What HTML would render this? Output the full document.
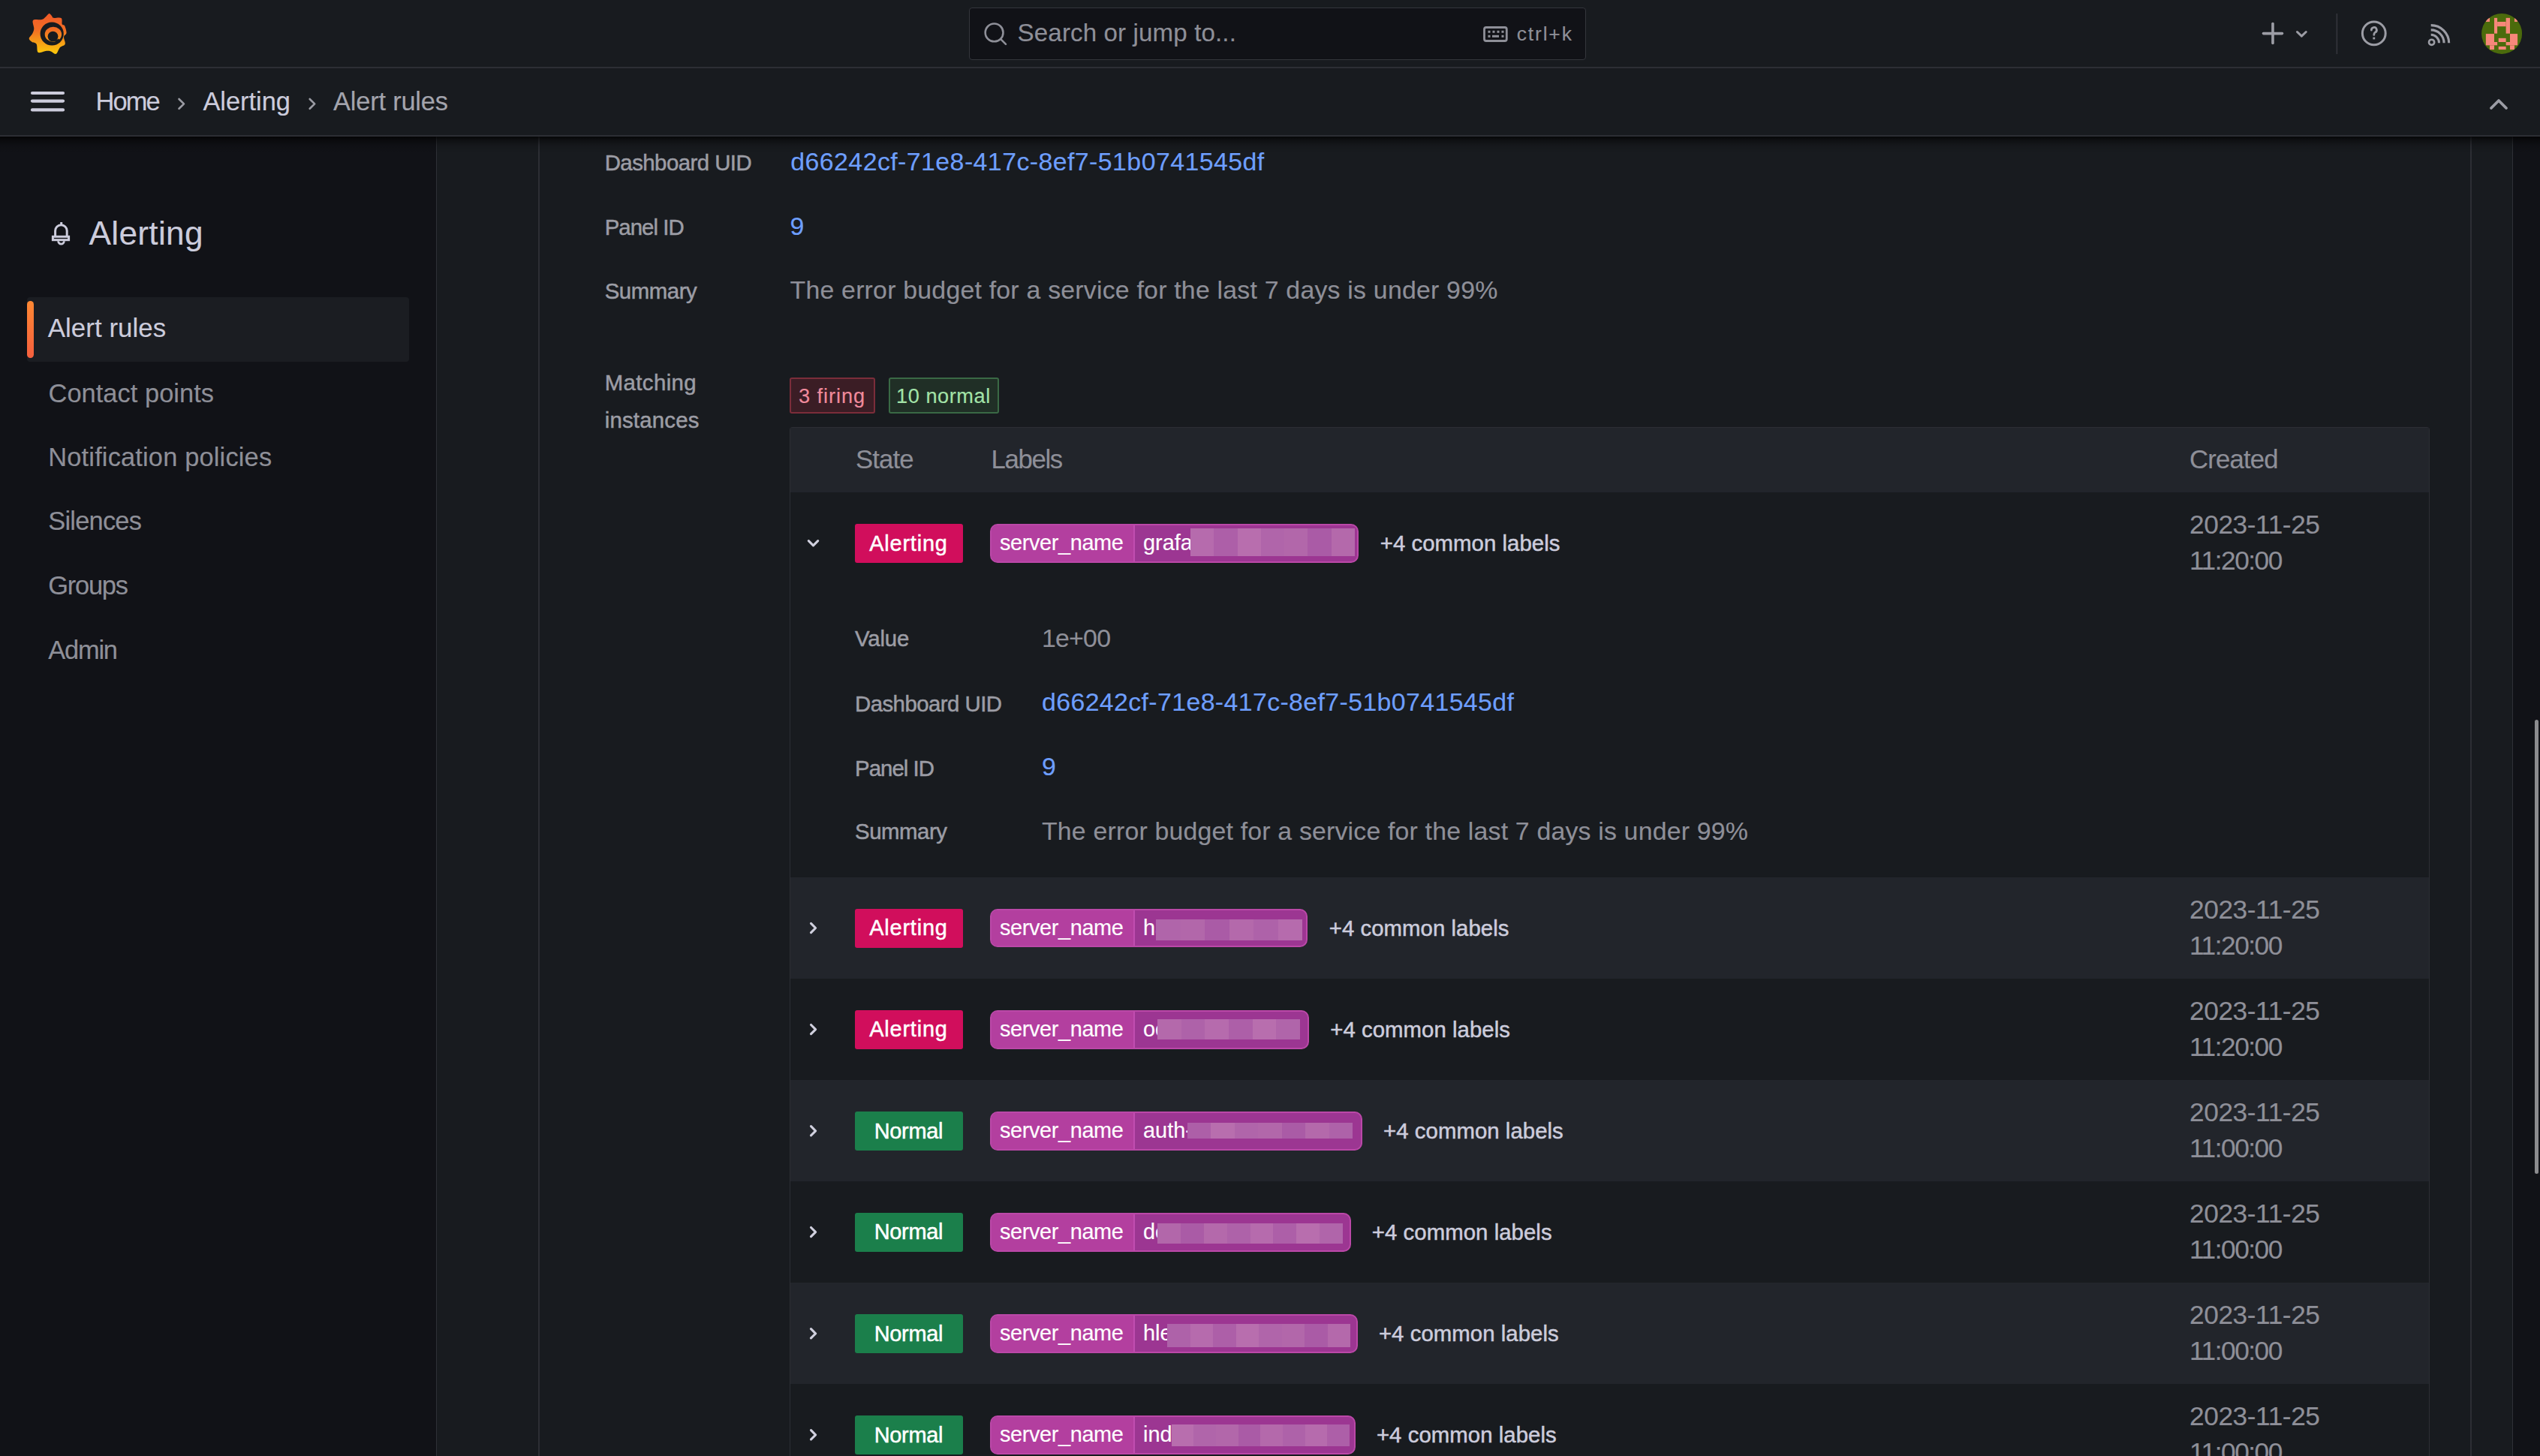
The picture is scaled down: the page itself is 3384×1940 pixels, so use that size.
<!DOCTYPE html>
<html><head><meta charset="utf-8"><style>
html,body{margin:0;padding:0;width:3384px;height:1940px;overflow:hidden;background:#181b1f}
body{position:relative;font-family:"Liberation Sans",sans-serif}
.t{position:absolute;white-space:nowrap;line-height:1}
.b{position:absolute}
</style></head><body><div id="root" style="position:relative;width:3384px;height:1940px;overflow:hidden">
<div class="b" style="left:0.00px;top:0.00px;width:3384.00px;height:1940.00px;background:#181b1f"></div>
<div class="b" style="left:0.00px;top:182.00px;width:581.00px;height:1758.00px;background:#111217"></div>
<div class="b" style="left:580.50px;top:182.00px;width:1.50px;height:1758.00px;background:#2e3036"></div>
<div class="b" style="left:3348.00px;top:182.00px;width:36.00px;height:1758.00px;background:#111217"></div>
<div class="b" style="left:717.00px;top:182.00px;width:2.00px;height:1758.00px;background:#2c2e34"></div>
<div class="b" style="left:3291.00px;top:182.00px;width:2.00px;height:1758.00px;background:#2c2e34"></div>
<div class="b" style="left:3347.00px;top:182.00px;width:1.30px;height:1758.00px;background:#2e3036"></div>
<div class="b" style="left:3377.00px;top:959.00px;width:5.00px;height:605.00px;background:#8c8c8f;border-radius:3px"></div>
<div class="b" style="left:0.00px;top:89.00px;width:3384.00px;height:2.00px;background:#2c2e34"></div>
<div class="b" style="left:0.00px;top:180.00px;width:3384.00px;height:2.00px;background:#2c2e34"></div>
<div class="b" style="left:0.00px;top:182.00px;width:3384.00px;height:22.00px;background:linear-gradient(rgba(0,0,0,0.75) 0px,rgba(0,0,0,0.4) 5px,rgba(0,0,0,0.12) 12px,rgba(0,0,0,0) 22px)"></div>
<div class="b" style="left:1290.50px;top:9.80px;width:822.00px;height:70.70px;background:#111217;border:1.5px solid #34363c;border-radius:4px;box-sizing:border-box"></div>
<div class="t" style="left:1355.60px;top:27.35px;font-size:33.14px;letter-spacing:0.117px;color:#8e8f98;-webkit-text-stroke:0.15px #8e8f98;">Search or jump to...</div>
<div class="t" style="left:2020.80px;top:31.66px;font-size:26.45px;letter-spacing:1.832px;color:#8e8f98;-webkit-text-stroke:0.15px #8e8f98;">ctrl+k</div>
<div class="t" style="left:127.50px;top:117.54px;font-size:34.45px;letter-spacing:-1.896px;color:#ccccdc;-webkit-text-stroke:0.15px #ccccdc;">Home</div>
<div class="t" style="left:270.40px;top:117.54px;font-size:34.45px;letter-spacing:-0.029px;color:#ccccdc;-webkit-text-stroke:0.15px #ccccdc;">Alerting</div>
<div class="t" style="left:444.00px;top:117.54px;font-size:34.45px;letter-spacing:-0.207px;color:#a3a4ad;-webkit-text-stroke:0.15px #a3a4ad;">Alert rules</div>
<div class="b" style="left:36.00px;top:396.00px;width:508.60px;height:86.00px;background:#1b1d22;border-radius:4px"></div>
<div class="b" style="left:35.90px;top:400.90px;width:9.20px;height:76.10px;background:linear-gradient(#ff8833,#f55f3e);border-radius:5px"></div>
<div class="t" style="left:118.50px;top:288.70px;font-size:44.19px;letter-spacing:0.311px;color:#ccccdc;-webkit-text-stroke:0.15px #ccccdc;">Alerting</div>
<div class="t" style="left:63.70px;top:420.47px;font-size:34.88px;letter-spacing:0.057px;color:#ccccdc;-webkit-text-stroke:0.15px #ccccdc;">Alert rules</div>
<div class="t" style="left:64.50px;top:506.74px;font-size:34.45px;letter-spacing:0.030px;color:#8e8f98;-webkit-text-stroke:0.15px #8e8f98;">Contact points</div>
<div class="t" style="left:64.30px;top:591.54px;font-size:34.45px;letter-spacing:0.152px;color:#8e8f98;-webkit-text-stroke:0.15px #8e8f98;">Notification policies</div>
<div class="t" style="left:64.30px;top:677.24px;font-size:34.45px;letter-spacing:-0.787px;color:#8e8f98;-webkit-text-stroke:0.15px #8e8f98;">Silences</div>
<div class="t" style="left:64.30px;top:762.54px;font-size:34.45px;letter-spacing:-1.273px;color:#8e8f98;-webkit-text-stroke:0.15px #8e8f98;">Groups</div>
<div class="t" style="left:64.30px;top:848.74px;font-size:34.45px;letter-spacing:-1.235px;color:#8e8f98;-webkit-text-stroke:0.15px #8e8f98;">Admin</div>
<div class="t" style="left:805.70px;top:202.35px;font-size:29.36px;letter-spacing:-0.530px;color:#9c9da5;-webkit-text-stroke:0.5px #9c9da5;">Dashboard UID</div>
<div class="t" style="left:1053.30px;top:199.13px;font-size:33.87px;letter-spacing:0.436px;color:#6e9fff;-webkit-text-stroke:0.15px #6e9fff;">d66242cf-71e8-417c-8ef7-51b0741545df</div>
<div class="t" style="left:805.70px;top:287.55px;font-size:29.36px;letter-spacing:-0.944px;color:#9c9da5;-webkit-text-stroke:0.5px #9c9da5;">Panel ID</div>
<div class="t" style="left:1052.50px;top:284.83px;font-size:33.87px;letter-spacing:0.000px;color:#6e9fff;-webkit-text-stroke:0.15px #6e9fff;">9</div>
<div class="t" style="left:805.70px;top:372.55px;font-size:29.36px;letter-spacing:-0.436px;color:#9c9da5;-webkit-text-stroke:0.5px #9c9da5;">Summary</div>
<div class="t" style="left:1052.50px;top:370.33px;font-size:33.87px;letter-spacing:0.211px;color:#8e8f98;-webkit-text-stroke:0.15px #8e8f98;">The error budget for a service for the last 7 days is under 99%</div>
<div class="t" style="left:805.70px;top:495.15px;font-size:29.36px;letter-spacing:0.409px;color:#9c9da5;-webkit-text-stroke:0.5px #9c9da5;">Matching</div>
<div class="t" style="left:805.70px;top:545.15px;font-size:29.36px;letter-spacing:0.208px;color:#9c9da5;-webkit-text-stroke:0.5px #9c9da5;">instances</div>
<div class="b" style="left:1052.20px;top:503.20px;width:113.60px;height:47.60px;background:#3b1d25;border:2px solid #7b2d3a;border-radius:3px;box-sizing:border-box"></div>
<div class="t" style="left:1064.00px;top:513.99px;font-size:27.18px;letter-spacing:0.946px;color:#f08a9c;-webkit-text-stroke:0.15px #f08a9c;">3 firing</div>
<div class="b" style="left:1184.00px;top:503.20px;width:146.80px;height:47.60px;background:#202f26;border:2px solid #3a6945;border-radius:3px;box-sizing:border-box"></div>
<div class="t" style="left:1194.00px;top:513.99px;font-size:27.18px;letter-spacing:0.554px;color:#a3e3a8;-webkit-text-stroke:0.15px #a3e3a8;">10 normal</div>
<div class="b" style="left:1052.00px;top:569.00px;width:2185.20px;height:1371.00px;border:1.4px solid #2c2e34;border-bottom:none;border-radius:4px 4px 0 0;box-sizing:border-box"></div>
<div class="b" style="left:1053.40px;top:570.40px;width:2182.40px;height:85.60px;background:#22252b"></div>
<div class="t" style="left:1140.00px;top:594.69px;font-size:34.74px;letter-spacing:-0.903px;color:#8e8f98;-webkit-text-stroke:0.15px #8e8f98;">State</div>
<div class="t" style="left:1320.60px;top:594.69px;font-size:34.74px;letter-spacing:-1.353px;color:#8e8f98;-webkit-text-stroke:0.15px #8e8f98;">Labels</div>
<div class="t" style="left:2917.00px;top:594.99px;font-size:34.74px;letter-spacing:-0.814px;color:#8e8f98;-webkit-text-stroke:0.15px #8e8f98;">Created</div>
<div class="b" style="left:1053.40px;top:656.00px;width:2182.40px;height:512.70px;background:#181b1f"></div>
<svg class="b" style="left:0;top:0;overflow:visible" width="1" height="1"><path d="M1077.3 720.60 L1083.5 726.80 L1089.7 720.60" fill="none" stroke="#d0d0de" stroke-width="3.1" stroke-linecap="round" stroke-linejoin="round"/></svg>
<div class="b" style="left:1139.00px;top:698.10px;width:144.00px;height:51.80px;background:#d10e5c;border-radius:3px"></div>
<div class="t" style="left:1158.30px;top:709.52px;font-size:28.92px;letter-spacing:0.790px;color:#ffffff;-webkit-text-stroke:0.5px #ffffff;">Alerting</div>
<div class="b" style="left:1319.20px;top:698.20px;width:491.30px;height:51.60px;background:#9c3692;border:2px solid #bb48a8;border-radius:10px;box-sizing:border-box;overflow:hidden"></div>
<div class="b" style="left:1321.00px;top:700.20px;width:189.00px;height:47.60px;background:#b33f9f;border-radius:8px 0 0 8px"></div>
<div class="b" style="left:1509.50px;top:700.20px;width:2.00px;height:47.60px;background:#c04db0"></div>
<div class="t" style="left:1332.00px;top:709.02px;font-size:28.92px;letter-spacing:-0.380px;color:#ffffff;-webkit-text-stroke:0.15px #ffffff;">server_name</div>
<div class="t" style="left:1523.00px;top:709.02px;font-size:28.92px;letter-spacing:0.000px;color:#ffffff;-webkit-text-stroke:0.15px #ffffff;">grafa</div>
<div class="b" style="left:1586.00px;top:704.10px;width:31.59px;height:37.00px;background:#b66bad"></div>
<div class="b" style="left:1617.29px;top:704.10px;width:31.59px;height:37.00px;background:#ad5fa8"></div>
<div class="b" style="left:1648.57px;top:704.10px;width:31.59px;height:37.00px;background:#b86eae"></div>
<div class="b" style="left:1679.86px;top:704.10px;width:31.59px;height:37.00px;background:#b065aa"></div>
<div class="b" style="left:1711.14px;top:704.10px;width:31.59px;height:37.00px;background:#b267aa"></div>
<div class="b" style="left:1742.43px;top:704.10px;width:31.59px;height:37.00px;background:#aa5ba6"></div>
<div class="b" style="left:1773.71px;top:704.10px;width:31.59px;height:37.00px;background:#b469ab"></div>
<div class="t" style="left:1838.70px;top:709.25px;font-size:29.36px;letter-spacing:0.048px;color:#ccccdc;-webkit-text-stroke:0.5px #ccccdc;">+4 common labels</div>
<div class="t" style="left:2917.00px;top:680.80px;font-size:35.32px;letter-spacing:-0.450px;color:#8e8f98;-webkit-text-stroke:0.15px #8e8f98;">2023-11-25</div>
<div class="t" style="left:2917.00px;top:729.20px;font-size:35.32px;letter-spacing:-1.495px;color:#8e8f98;-webkit-text-stroke:0.15px #8e8f98;">11:20:00</div>
<div class="t" style="left:1139.00px;top:836.15px;font-size:29.36px;letter-spacing:-0.154px;color:#9c9da5;-webkit-text-stroke:0.5px #9c9da5;">Value</div>
<div class="t" style="left:1388.00px;top:834.33px;font-size:33.87px;letter-spacing:-0.779px;color:#8e8f98;-webkit-text-stroke:0.15px #8e8f98;">1e+00</div>
<div class="t" style="left:1139.00px;top:923.15px;font-size:29.36px;letter-spacing:-0.530px;color:#9c9da5;-webkit-text-stroke:0.5px #9c9da5;">Dashboard UID</div>
<div class="t" style="left:1388.00px;top:919.33px;font-size:33.87px;letter-spacing:0.379px;color:#6e9fff;-webkit-text-stroke:0.15px #6e9fff;">d66242cf-71e8-417c-8ef7-51b0741545df</div>
<div class="t" style="left:1139.00px;top:1008.65px;font-size:29.36px;letter-spacing:-0.944px;color:#9c9da5;-webkit-text-stroke:0.5px #9c9da5;">Panel ID</div>
<div class="t" style="left:1388.00px;top:1004.83px;font-size:33.87px;letter-spacing:0.000px;color:#6e9fff;-webkit-text-stroke:0.15px #6e9fff;">9</div>
<div class="t" style="left:1139.00px;top:1093.15px;font-size:29.36px;letter-spacing:-0.436px;color:#9c9da5;-webkit-text-stroke:0.5px #9c9da5;">Summary</div>
<div class="t" style="left:1388.00px;top:1090.83px;font-size:33.87px;letter-spacing:0.179px;color:#8e8f98;-webkit-text-stroke:0.15px #8e8f98;">The error budget for a service for the last 7 days is under 99%</div>
<div class="b" style="left:1053.40px;top:1168.70px;width:2182.40px;height:135.10px;background:#22252b"></div>
<svg class="b" style="left:0;top:0;overflow:visible" width="1" height="1"><path d="M1080.5 1230.40 L1086.6 1236.50 L1080.5 1242.60" fill="none" stroke="#d0d0de" stroke-width="3.1" stroke-linecap="round" stroke-linejoin="round"/></svg>
<div class="b" style="left:1139.00px;top:1210.80px;width:144.00px;height:51.80px;background:#d10e5c;border-radius:3px"></div>
<div class="t" style="left:1158.30px;top:1222.22px;font-size:28.92px;letter-spacing:0.790px;color:#ffffff;-webkit-text-stroke:0.5px #ffffff;">Alerting</div>
<div class="b" style="left:1319.20px;top:1210.90px;width:423.30px;height:51.60px;background:#9c3692;border:2px solid #bb48a8;border-radius:10px;box-sizing:border-box;overflow:hidden"></div>
<div class="b" style="left:1321.00px;top:1212.90px;width:189.00px;height:47.60px;background:#b33f9f;border-radius:8px 0 0 8px"></div>
<div class="b" style="left:1509.50px;top:1212.90px;width:2.00px;height:47.60px;background:#c04db0"></div>
<div class="t" style="left:1332.00px;top:1221.72px;font-size:28.92px;letter-spacing:-0.380px;color:#ffffff;-webkit-text-stroke:0.15px #ffffff;">server_name</div>
<div class="t" style="left:1523.00px;top:1221.72px;font-size:28.92px;letter-spacing:0.000px;color:#ffffff;-webkit-text-stroke:0.15px #ffffff;">ha</div>
<div class="b" style="left:1540.00px;top:1224.90px;width:32.80px;height:27.70px;background:#b065aa"></div>
<div class="b" style="left:1572.50px;top:1224.90px;width:32.80px;height:27.70px;background:#b267aa"></div>
<div class="b" style="left:1605.00px;top:1224.90px;width:32.80px;height:27.70px;background:#aa5ba6"></div>
<div class="b" style="left:1637.50px;top:1224.90px;width:32.80px;height:27.70px;background:#b469ab"></div>
<div class="b" style="left:1670.00px;top:1224.90px;width:32.80px;height:27.70px;background:#ae62a9"></div>
<div class="b" style="left:1702.50px;top:1224.90px;width:32.80px;height:27.70px;background:#b66bad"></div>
<div class="t" style="left:1770.70px;top:1221.95px;font-size:29.36px;letter-spacing:0.048px;color:#ccccdc;-webkit-text-stroke:0.5px #ccccdc;">+4 common labels</div>
<div class="t" style="left:2917.00px;top:1193.50px;font-size:35.32px;letter-spacing:-0.450px;color:#8e8f98;-webkit-text-stroke:0.15px #8e8f98;">2023-11-25</div>
<div class="t" style="left:2917.00px;top:1241.90px;font-size:35.32px;letter-spacing:-1.495px;color:#8e8f98;-webkit-text-stroke:0.15px #8e8f98;">11:20:00</div>
<div class="b" style="left:1053.40px;top:1303.80px;width:2182.40px;height:135.20px;background:#181b1f"></div>
<svg class="b" style="left:0;top:0;overflow:visible" width="1" height="1"><path d="M1080.5 1365.50 L1086.6 1371.60 L1080.5 1377.70" fill="none" stroke="#d0d0de" stroke-width="3.1" stroke-linecap="round" stroke-linejoin="round"/></svg>
<div class="b" style="left:1139.00px;top:1345.90px;width:144.00px;height:51.80px;background:#d10e5c;border-radius:3px"></div>
<div class="t" style="left:1158.30px;top:1357.32px;font-size:28.92px;letter-spacing:0.790px;color:#ffffff;-webkit-text-stroke:0.5px #ffffff;">Alerting</div>
<div class="b" style="left:1319.20px;top:1346.00px;width:424.80px;height:51.60px;background:#9c3692;border:2px solid #bb48a8;border-radius:10px;box-sizing:border-box;overflow:hidden"></div>
<div class="b" style="left:1321.00px;top:1348.00px;width:189.00px;height:47.60px;background:#b33f9f;border-radius:8px 0 0 8px"></div>
<div class="b" style="left:1509.50px;top:1348.00px;width:2.00px;height:47.60px;background:#c04db0"></div>
<div class="t" style="left:1332.00px;top:1356.82px;font-size:28.92px;letter-spacing:-0.380px;color:#ffffff;-webkit-text-stroke:0.15px #ffffff;">server_name</div>
<div class="t" style="left:1523.00px;top:1356.82px;font-size:28.92px;letter-spacing:0.000px;color:#ffffff;-webkit-text-stroke:0.15px #ffffff;">oc</div>
<div class="b" style="left:1542.00px;top:1357.90px;width:31.97px;height:27.60px;background:#b469ab"></div>
<div class="b" style="left:1573.67px;top:1357.90px;width:31.97px;height:27.60px;background:#ae62a9"></div>
<div class="b" style="left:1605.33px;top:1357.90px;width:31.97px;height:27.60px;background:#b66bad"></div>
<div class="b" style="left:1637.00px;top:1357.90px;width:31.97px;height:27.60px;background:#ad5fa8"></div>
<div class="b" style="left:1668.67px;top:1357.90px;width:31.97px;height:27.60px;background:#b86eae"></div>
<div class="b" style="left:1700.33px;top:1357.90px;width:31.97px;height:27.60px;background:#b065aa"></div>
<div class="t" style="left:1772.20px;top:1357.05px;font-size:29.36px;letter-spacing:0.048px;color:#ccccdc;-webkit-text-stroke:0.5px #ccccdc;">+4 common labels</div>
<div class="t" style="left:2917.00px;top:1328.60px;font-size:35.32px;letter-spacing:-0.450px;color:#8e8f98;-webkit-text-stroke:0.15px #8e8f98;">2023-11-25</div>
<div class="t" style="left:2917.00px;top:1377.00px;font-size:35.32px;letter-spacing:-1.495px;color:#8e8f98;-webkit-text-stroke:0.15px #8e8f98;">11:20:00</div>
<div class="b" style="left:1053.40px;top:1439.00px;width:2182.40px;height:134.80px;background:#22252b"></div>
<svg class="b" style="left:0;top:0;overflow:visible" width="1" height="1"><path d="M1080.5 1500.70 L1086.6 1506.80 L1080.5 1512.90" fill="none" stroke="#d0d0de" stroke-width="3.1" stroke-linecap="round" stroke-linejoin="round"/></svg>
<div class="b" style="left:1139.00px;top:1481.10px;width:144.00px;height:51.80px;background:#1b7f4b;border-radius:3px"></div>
<div class="t" style="left:1164.70px;top:1492.52px;font-size:28.92px;letter-spacing:-0.283px;color:#ffffff;-webkit-text-stroke:0.5px #ffffff;">Normal</div>
<div class="b" style="left:1319.20px;top:1481.20px;width:495.60px;height:51.60px;background:#9c3692;border:2px solid #bb48a8;border-radius:10px;box-sizing:border-box;overflow:hidden"></div>
<div class="b" style="left:1321.00px;top:1483.20px;width:189.00px;height:47.60px;background:#b33f9f;border-radius:8px 0 0 8px"></div>
<div class="b" style="left:1509.50px;top:1483.20px;width:2.00px;height:47.60px;background:#c04db0"></div>
<div class="t" style="left:1332.00px;top:1492.02px;font-size:28.92px;letter-spacing:-0.380px;color:#ffffff;-webkit-text-stroke:0.15px #ffffff;">server_name</div>
<div class="t" style="left:1523.00px;top:1492.02px;font-size:28.92px;letter-spacing:0.000px;color:#ffffff;-webkit-text-stroke:0.15px #ffffff;">auth-</div>
<div class="b" style="left:1582.00px;top:1496.00px;width:31.73px;height:21.00px;background:#ad5fa8"></div>
<div class="b" style="left:1613.43px;top:1496.00px;width:31.73px;height:21.00px;background:#b86eae"></div>
<div class="b" style="left:1644.86px;top:1496.00px;width:31.73px;height:21.00px;background:#b065aa"></div>
<div class="b" style="left:1676.29px;top:1496.00px;width:31.73px;height:21.00px;background:#b267aa"></div>
<div class="b" style="left:1707.71px;top:1496.00px;width:31.73px;height:21.00px;background:#aa5ba6"></div>
<div class="b" style="left:1739.14px;top:1496.00px;width:31.73px;height:21.00px;background:#b469ab"></div>
<div class="b" style="left:1770.57px;top:1496.00px;width:31.73px;height:21.00px;background:#ae62a9"></div>
<div class="t" style="left:1843.00px;top:1492.25px;font-size:29.36px;letter-spacing:0.048px;color:#ccccdc;-webkit-text-stroke:0.5px #ccccdc;">+4 common labels</div>
<div class="t" style="left:2917.00px;top:1463.80px;font-size:35.32px;letter-spacing:-0.450px;color:#8e8f98;-webkit-text-stroke:0.15px #8e8f98;">2023-11-25</div>
<div class="t" style="left:2917.00px;top:1512.20px;font-size:35.32px;letter-spacing:-1.495px;color:#8e8f98;-webkit-text-stroke:0.15px #8e8f98;">11:00:00</div>
<div class="b" style="left:1053.40px;top:1573.80px;width:2182.40px;height:135.20px;background:#181b1f"></div>
<svg class="b" style="left:0;top:0;overflow:visible" width="1" height="1"><path d="M1080.5 1635.50 L1086.6 1641.60 L1080.5 1647.70" fill="none" stroke="#d0d0de" stroke-width="3.1" stroke-linecap="round" stroke-linejoin="round"/></svg>
<div class="b" style="left:1139.00px;top:1615.90px;width:144.00px;height:51.80px;background:#1b7f4b;border-radius:3px"></div>
<div class="t" style="left:1164.70px;top:1627.32px;font-size:28.92px;letter-spacing:-0.283px;color:#ffffff;-webkit-text-stroke:0.5px #ffffff;">Normal</div>
<div class="b" style="left:1319.20px;top:1616.00px;width:480.40px;height:51.60px;background:#9c3692;border:2px solid #bb48a8;border-radius:10px;box-sizing:border-box;overflow:hidden"></div>
<div class="b" style="left:1321.00px;top:1618.00px;width:189.00px;height:47.60px;background:#b33f9f;border-radius:8px 0 0 8px"></div>
<div class="b" style="left:1509.50px;top:1618.00px;width:2.00px;height:47.60px;background:#c04db0"></div>
<div class="t" style="left:1332.00px;top:1626.82px;font-size:28.92px;letter-spacing:-0.380px;color:#ffffff;-webkit-text-stroke:0.15px #ffffff;">server_name</div>
<div class="t" style="left:1523.00px;top:1626.82px;font-size:28.92px;letter-spacing:0.000px;color:#ffffff;-webkit-text-stroke:0.15px #ffffff;">de</div>
<div class="b" style="left:1542.00px;top:1629.80px;width:31.17px;height:27.60px;background:#b267aa"></div>
<div class="b" style="left:1572.88px;top:1629.80px;width:31.17px;height:27.60px;background:#aa5ba6"></div>
<div class="b" style="left:1603.75px;top:1629.80px;width:31.17px;height:27.60px;background:#b469ab"></div>
<div class="b" style="left:1634.62px;top:1629.80px;width:31.17px;height:27.60px;background:#ae62a9"></div>
<div class="b" style="left:1665.50px;top:1629.80px;width:31.17px;height:27.60px;background:#b66bad"></div>
<div class="b" style="left:1696.38px;top:1629.80px;width:31.17px;height:27.60px;background:#ad5fa8"></div>
<div class="b" style="left:1727.25px;top:1629.80px;width:31.17px;height:27.60px;background:#b86eae"></div>
<div class="b" style="left:1758.12px;top:1629.80px;width:31.17px;height:27.60px;background:#b065aa"></div>
<div class="t" style="left:1827.80px;top:1627.05px;font-size:29.36px;letter-spacing:0.048px;color:#ccccdc;-webkit-text-stroke:0.5px #ccccdc;">+4 common labels</div>
<div class="t" style="left:2917.00px;top:1598.60px;font-size:35.32px;letter-spacing:-0.450px;color:#8e8f98;-webkit-text-stroke:0.15px #8e8f98;">2023-11-25</div>
<div class="t" style="left:2917.00px;top:1647.00px;font-size:35.32px;letter-spacing:-1.495px;color:#8e8f98;-webkit-text-stroke:0.15px #8e8f98;">11:00:00</div>
<div class="b" style="left:1053.40px;top:1709.00px;width:2182.40px;height:135.00px;background:#22252b"></div>
<svg class="b" style="left:0;top:0;overflow:visible" width="1" height="1"><path d="M1080.5 1770.70 L1086.6 1776.80 L1080.5 1782.90" fill="none" stroke="#d0d0de" stroke-width="3.1" stroke-linecap="round" stroke-linejoin="round"/></svg>
<div class="b" style="left:1139.00px;top:1751.10px;width:144.00px;height:51.80px;background:#1b7f4b;border-radius:3px"></div>
<div class="t" style="left:1164.70px;top:1762.52px;font-size:28.92px;letter-spacing:-0.283px;color:#ffffff;-webkit-text-stroke:0.5px #ffffff;">Normal</div>
<div class="b" style="left:1319.20px;top:1751.20px;width:489.50px;height:51.60px;background:#9c3692;border:2px solid #bb48a8;border-radius:10px;box-sizing:border-box;overflow:hidden"></div>
<div class="b" style="left:1321.00px;top:1753.20px;width:189.00px;height:47.60px;background:#b33f9f;border-radius:8px 0 0 8px"></div>
<div class="b" style="left:1509.50px;top:1753.20px;width:2.00px;height:47.60px;background:#c04db0"></div>
<div class="t" style="left:1332.00px;top:1762.02px;font-size:28.92px;letter-spacing:-0.380px;color:#ffffff;-webkit-text-stroke:0.15px #ffffff;">server_name</div>
<div class="t" style="left:1523.00px;top:1762.02px;font-size:28.92px;letter-spacing:0.000px;color:#ffffff;-webkit-text-stroke:0.15px #ffffff;">hle</div>
<div class="b" style="left:1555.00px;top:1764.40px;width:30.80px;height:31.00px;background:#ae62a9"></div>
<div class="b" style="left:1585.50px;top:1764.40px;width:30.80px;height:31.00px;background:#b66bad"></div>
<div class="b" style="left:1616.00px;top:1764.40px;width:30.80px;height:31.00px;background:#ad5fa8"></div>
<div class="b" style="left:1646.50px;top:1764.40px;width:30.80px;height:31.00px;background:#b86eae"></div>
<div class="b" style="left:1677.00px;top:1764.40px;width:30.80px;height:31.00px;background:#b065aa"></div>
<div class="b" style="left:1707.50px;top:1764.40px;width:30.80px;height:31.00px;background:#b267aa"></div>
<div class="b" style="left:1738.00px;top:1764.40px;width:30.80px;height:31.00px;background:#aa5ba6"></div>
<div class="b" style="left:1768.50px;top:1764.40px;width:30.80px;height:31.00px;background:#b469ab"></div>
<div class="t" style="left:1836.90px;top:1762.25px;font-size:29.36px;letter-spacing:0.048px;color:#ccccdc;-webkit-text-stroke:0.5px #ccccdc;">+4 common labels</div>
<div class="t" style="left:2917.00px;top:1733.80px;font-size:35.32px;letter-spacing:-0.450px;color:#8e8f98;-webkit-text-stroke:0.15px #8e8f98;">2023-11-25</div>
<div class="t" style="left:2917.00px;top:1782.20px;font-size:35.32px;letter-spacing:-1.495px;color:#8e8f98;-webkit-text-stroke:0.15px #8e8f98;">11:00:00</div>
<div class="b" style="left:1053.40px;top:1844.00px;width:2182.40px;height:135.00px;background:#181b1f"></div>
<svg class="b" style="left:0;top:0;overflow:visible" width="1" height="1"><path d="M1080.5 1905.70 L1086.6 1911.80 L1080.5 1917.90" fill="none" stroke="#d0d0de" stroke-width="3.1" stroke-linecap="round" stroke-linejoin="round"/></svg>
<div class="b" style="left:1139.00px;top:1886.10px;width:144.00px;height:51.80px;background:#1b7f4b;border-radius:3px"></div>
<div class="t" style="left:1164.70px;top:1897.52px;font-size:28.92px;letter-spacing:-0.283px;color:#ffffff;-webkit-text-stroke:0.5px #ffffff;">Normal</div>
<div class="b" style="left:1319.20px;top:1886.20px;width:486.50px;height:51.60px;background:#9c3692;border:2px solid #bb48a8;border-radius:10px;box-sizing:border-box;overflow:hidden"></div>
<div class="b" style="left:1321.00px;top:1888.20px;width:189.00px;height:47.60px;background:#b33f9f;border-radius:8px 0 0 8px"></div>
<div class="b" style="left:1509.50px;top:1888.20px;width:2.00px;height:47.60px;background:#c04db0"></div>
<div class="t" style="left:1332.00px;top:1897.02px;font-size:28.92px;letter-spacing:-0.380px;color:#ffffff;-webkit-text-stroke:0.15px #ffffff;">server_name</div>
<div class="t" style="left:1523.00px;top:1897.02px;font-size:28.92px;letter-spacing:0.000px;color:#ffffff;-webkit-text-stroke:0.15px #ffffff;">ind</div>
<div class="b" style="left:1560.60px;top:1898.00px;width:29.97px;height:29.00px;background:#b86eae"></div>
<div class="b" style="left:1590.27px;top:1898.00px;width:29.97px;height:29.00px;background:#b065aa"></div>
<div class="b" style="left:1619.95px;top:1898.00px;width:29.98px;height:29.00px;background:#b267aa"></div>
<div class="b" style="left:1649.62px;top:1898.00px;width:29.97px;height:29.00px;background:#aa5ba6"></div>
<div class="b" style="left:1679.30px;top:1898.00px;width:29.97px;height:29.00px;background:#b469ab"></div>
<div class="b" style="left:1708.97px;top:1898.00px;width:29.98px;height:29.00px;background:#ae62a9"></div>
<div class="b" style="left:1738.65px;top:1898.00px;width:29.97px;height:29.00px;background:#b66bad"></div>
<div class="b" style="left:1768.33px;top:1898.00px;width:29.97px;height:29.00px;background:#ad5fa8"></div>
<div class="t" style="left:1833.90px;top:1897.25px;font-size:29.36px;letter-spacing:0.048px;color:#ccccdc;-webkit-text-stroke:0.5px #ccccdc;">+4 common labels</div>
<div class="t" style="left:2917.00px;top:1868.80px;font-size:35.32px;letter-spacing:-0.450px;color:#8e8f98;-webkit-text-stroke:0.15px #8e8f98;">2023-11-25</div>
<div class="t" style="left:2917.00px;top:1917.20px;font-size:35.32px;letter-spacing:-1.495px;color:#8e8f98;-webkit-text-stroke:0.15px #8e8f98;">11:00:00</div>
<svg class="b" style="left:0;top:0" width="3384" height="1940" viewBox="0 0 3384 1940"><defs><linearGradient id="lg" gradientUnits="userSpaceOnUse" x1="0" y1="18" x2="0" y2="72"><stop offset="0" stop-color="#f05a28"/><stop offset="0.4" stop-color="#f26d24"/><stop offset="1" stop-color="#fbca0a"/></linearGradient></defs><path d="M65.49 18.09 C66.93 17.88 68.24 20.63 69.20 21.59 C70.16 22.55 69.20 23.45 71.26 23.86 C73.32 24.27 79.64 22.66 81.56 24.06 C83.48 25.47 82.04 30.59 82.80 32.31 C83.55 34.02 85.13 32.44 86.09 34.37 C87.05 36.29 88.74 41.37 88.56 43.84 C88.39 46.31 85.37 46.73 85.06 49.20 C84.75 51.67 87.57 56.34 86.71 58.68 C85.85 61.01 81.94 61.01 79.91 63.21 C77.89 65.41 76.68 71.04 74.56 71.86 C72.43 72.68 69.61 68.77 67.14 68.15 C64.67 67.53 62.47 67.88 59.72 68.15 C56.98 68.43 52.51 71.38 50.66 69.80 C48.80 68.22 49.97 61.01 48.60 58.68 C47.22 56.34 44.06 57.03 42.42 55.79 C40.77 54.56 38.57 53.11 38.71 51.26 C38.85 49.40 42.14 46.86 43.24 44.67 C44.34 42.47 45.16 41.03 45.30 38.07 C45.44 35.12 42.35 28.94 44.06 26.95 C45.78 24.96 52.85 26.81 55.60 26.12 C58.35 25.44 58.90 24.17 60.55 22.83 C62.19 21.49 64.05 18.30 65.49 18.09 Z" fill="url(#lg)"/><circle cx="69.2" cy="45.0" r="15.6" fill="#181b1f"/><ellipse cx="70.9" cy="45.7" rx="11.2" ry="10.0" fill="url(#lg)"/><circle cx="70.5" cy="48.6" r="6.9" fill="#181b1f"/><path d="M73.2 54.2 L78.2 51.6 L80.2 56.2 L75.2 58.2 Z" fill="#181b1f"/><line x1="43" y1="124" x2="84" y2="124" stroke="#ccccdc" stroke-width="4.2" stroke-linecap="round"/><line x1="43" y1="134.6" x2="84" y2="134.6" stroke="#ccccdc" stroke-width="4.2" stroke-linecap="round"/><line x1="43" y1="146.4" x2="84" y2="146.4" stroke="#ccccdc" stroke-width="4.2" stroke-linecap="round"/><path d="M238.5 132 L245.0 138.4 L238.5 144.8" fill="none" stroke="#9a9ba3" stroke-width="2.6" stroke-linecap="round" stroke-linejoin="round"/><path d="M412.7 132 L419.2 138.4 L412.7 144.8" fill="none" stroke="#9a9ba3" stroke-width="2.6" stroke-linecap="round" stroke-linejoin="round"/><circle cx="1324.6" cy="43.4" r="11.9" fill="none" stroke="#8e8f98" stroke-width="2.6"/><line x1="1333.5" y1="52.3" x2="1340" y2="58.8" stroke="#8e8f98" stroke-width="2.6" stroke-linecap="round"/><rect x="1977.5" y="36.5" width="29.8" height="18" rx="2.5" fill="none" stroke="#8e8f98" stroke-width="2.8"/><rect x="1982.5" y="40.8" width="3" height="3" fill="#8e8f98"/><rect x="1988.5" y="40.8" width="3" height="3" fill="#8e8f98"/><rect x="1994.5" y="40.8" width="3" height="3" fill="#8e8f98"/><rect x="2000.5" y="40.8" width="3" height="3" fill="#8e8f98"/><rect x="1982.5" y="46.8" width="3" height="3" fill="#8e8f98"/><rect x="1988" y="46.8" width="9" height="3" fill="#8e8f98"/><rect x="2000.5" y="46.8" width="3" height="3" fill="#8e8f98"/><line x1="3028" y1="31.5" x2="3028" y2="57.5" stroke="#9c9da5" stroke-width="3.6" stroke-linecap="round"/><line x1="3015.5" y1="44.6" x2="3040.5" y2="44.6" stroke="#9c9da5" stroke-width="3.6" stroke-linecap="round"/><path d="M3060.5 42.5 L3066.4 48.2 L3072.3 42.5" fill="none" stroke="#9c9da5" stroke-width="3" stroke-linecap="round" stroke-linejoin="round"/><rect x="3112.6" y="18" width="1.6" height="54" fill="#34363c"/><circle cx="3162.8" cy="44.4" r="15.4" fill="none" stroke="#9c9da5" stroke-width="3"/><path d="M3159.4 40.2 A3.5 3.5 0 1 1 3164.4 43.1 Q3162.8 44.1 3162.8 46.4" fill="none" stroke="#9c9da5" stroke-width="2.8" stroke-linecap="round"/><rect x="3161.4" y="49.6" width="2.8" height="2.8" fill="#9c9da5"/><circle cx="3239.6" cy="56.3" r="3.6" fill="none" stroke="#9c9da5" stroke-width="2.6"/><path d="M3238.7 46.30 A10.8 11.0 0 0 1 3249.50 57.3" fill="none" stroke="#9c9da5" stroke-width="3.1"/><path d="M3238.7 39.90 A17.4 17.4 0 0 1 3256.10 57.3" fill="none" stroke="#9c9da5" stroke-width="3.1"/><path d="M3238.7 33.60 A24.0 23.7 0 0 1 3262.70 57.3" fill="none" stroke="#9c9da5" stroke-width="3.1"/><path d="M3319 144 L3329 134 L3339 144" fill="none" stroke="#9c9da5" stroke-width="3.8" stroke-linecap="round" stroke-linejoin="round"/><path d="M73.6 314.5 V307.5 A7.8 7.8 0 0 1 89.2 307.5 V314.5" fill="none" stroke="#ccccdc" stroke-width="3"/><rect x="70.4" y="315.3" width="21.2" height="4.4" fill="none" stroke="#ccccdc" stroke-width="3"/><rect x="80.2" y="296" width="3" height="4" fill="#ccccdc"/><path d="M77.6 321.3 A3.9 3.9 0 0 0 85.4 321.3" fill="none" stroke="#ccccdc" stroke-width="2.8"/><clipPath id="avc"><circle cx="3333.1" cy="44.9" r="27"/></clipPath><g clip-path="url(#avc)"><rect x="3306" y="17.9" width="54.2" height="54.2" fill="#4b6b0c"/><rect x="3311.86" y="23.86" width="5.15" height="5.15" fill="#f7877a"/><rect x="3349.97" y="23.86" width="4.12" height="5.15" fill="#f7877a"/><rect x="3322.98" y="23.86" width="4.12" height="20.81" fill="#f7877a"/><rect x="3338.64" y="23.86" width="5.36" height="20.81" fill="#f7877a"/><rect x="3327.10" y="29.01" width="11.54" height="6.18" fill="#f7877a"/><rect x="3311.86" y="45.08" width="11.12" height="15.25" fill="#f7877a"/><rect x="3317.01" y="60.32" width="5.97" height="5.77" fill="#f7877a"/><rect x="3322.98" y="56.00" width="4.12" height="4.33" fill="#f7877a"/><rect x="3344.00" y="45.08" width="10.09" height="15.25" fill="#f7877a"/><rect x="3344.00" y="60.32" width="5.97" height="5.77" fill="#f7877a"/><rect x="3338.64" y="56.00" width="5.36" height="4.33" fill="#f7877a"/><rect x="3328.75" y="50.85" width="9.89" height="5.15" fill="#f7877a"/><rect x="3328.75" y="61.97" width="9.89" height="4.12" fill="#f7877a"/></g></svg>
</div></body></html>
